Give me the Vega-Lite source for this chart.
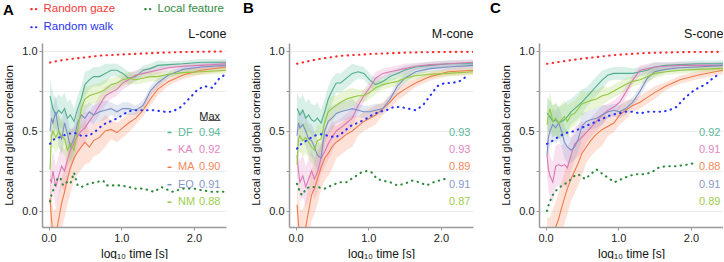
{
"$schema":"https://vega.github.io/schema/vega-lite/v6.json",
"background":"white",
"padding":{"left":3,"top":1,"right":0,"bottom":0},
"config":{
 "font":"Liberation Sans",
 "view":{"stroke":null},
 "axis":{"labelFontSize":11,"labelColor":"#222","titleFontSize":12,"titleFontWeight":"normal","titleColor":"#111","domainColor":"#9a9a9a","domainWidth":1.5,"tickColor":"#9a9a9a","tickSize":3,"gridColor":"#ececec","labelPadding":2},
 "axisY":{"titlePadding":7,"titleFontSize":11.5},
 "axisX":{"titlePadding":5},
 "legend":{"labelFont":"Liberation Sans"}
},
"datasets":{
"models":[
{"p":"A","m":"DF","x":0.02,"y":0.72,"lo":0.62,"hi":0.82},{"p":"A","m":"DF","x":0.04,"y":0.68,"lo":0.58,"hi":0.78},{"p":"A","m":"DF","x":0.06,"y":0.64,"lo":0.54,"hi":0.74},{"p":"A","m":"DF","x":0.10,"y":0.60,"lo":0.50,"hi":0.70},{"p":"A","m":"DF","x":0.14,"y":0.63,"lo":0.53,"hi":0.73},{"p":"A","m":"DF","x":0.18,"y":0.61,"lo":0.51,"hi":0.71},{"p":"A","m":"DF","x":0.22,"y":0.64,"lo":0.54,"hi":0.74},{"p":"A","m":"DF","x":0.26,"y":0.58,"lo":0.48,"hi":0.68},{"p":"A","m":"DF","x":0.30,"y":0.60,"lo":0.50,"hi":0.70},{"p":"A","m":"DF","x":0.35,"y":0.56,"lo":0.48,"hi":0.64},{"p":"A","m":"DF","x":0.40,"y":0.64,"lo":0.56,"hi":0.72},{"p":"A","m":"DF","x":0.45,"y":0.70,"lo":0.62,"hi":0.78},{"p":"A","m":"DF","x":0.50,"y":0.79,"lo":0.71,"hi":0.87},{"p":"A","m":"DF","x":0.56,"y":0.82,"lo":0.76,"hi":0.88},{"p":"A","m":"DF","x":0.62,"y":0.84,"lo":0.78,"hi":0.90},{"p":"A","m":"DF","x":0.70,"y":0.84,"lo":0.78,"hi":0.90},{"p":"A","m":"DF","x":0.78,"y":0.86,"lo":0.80,"hi":0.92},{"p":"A","m":"DF","x":0.86,"y":0.88,"lo":0.84,"hi":0.92},{"p":"A","m":"DF","x":0.94,"y":0.88,"lo":0.84,"hi":0.92},{"p":"A","m":"DF","x":1.02,"y":0.86,"lo":0.82,"hi":0.90},{"p":"A","m":"DF","x":1.10,"y":0.83,"lo":0.79,"hi":0.87},{"p":"A","m":"DF","x":1.20,"y":0.84,"lo":0.81,"hi":0.87},{"p":"A","m":"DF","x":1.30,"y":0.88,"lo":0.85,"hi":0.91},{"p":"A","m":"DF","x":1.40,"y":0.89,"lo":0.86,"hi":0.92},{"p":"A","m":"DF","x":1.50,"y":0.91,"lo":0.88,"hi":0.94},{"p":"A","m":"DF","x":1.65,"y":0.915,"lo":0.895,"hi":0.935},{"p":"A","m":"DF","x":1.85,"y":0.92,"lo":0.90,"hi":0.94},{"p":"A","m":"DF","x":2.10,"y":0.93,"lo":0.91,"hi":0.95},{"p":"A","m":"DF","x":2.44,"y":0.93,"lo":0.91,"hi":0.95},
{"p":"A","m":"KA","x":0.02,"y":0.20,"lo":0.07,"hi":0.33},{"p":"A","m":"KA","x":0.04,"y":0.18,"lo":0.05,"hi":0.31},{"p":"A","m":"KA","x":0.06,"y":0.25,"lo":0.12,"hi":0.38},{"p":"A","m":"KA","x":0.10,"y":0.15,"lo":0.02,"hi":0.28},{"p":"A","m":"KA","x":0.14,"y":0.22,"lo":0.09,"hi":0.35},{"p":"A","m":"KA","x":0.18,"y":0.28,"lo":0.15,"hi":0.41},{"p":"A","m":"KA","x":0.22,"y":0.25,"lo":0.12,"hi":0.38},{"p":"A","m":"KA","x":0.26,"y":0.32,"lo":0.19,"hi":0.45},{"p":"A","m":"KA","x":0.30,"y":0.38,"lo":0.25,"hi":0.51},{"p":"A","m":"KA","x":0.35,"y":0.42,"lo":0.32,"hi":0.52},{"p":"A","m":"KA","x":0.40,"y":0.47,"lo":0.37,"hi":0.57},{"p":"A","m":"KA","x":0.45,"y":0.50,"lo":0.40,"hi":0.60},{"p":"A","m":"KA","x":0.50,"y":0.52,"lo":0.42,"hi":0.62},{"p":"A","m":"KA","x":0.56,"y":0.56,"lo":0.50,"hi":0.62},{"p":"A","m":"KA","x":0.62,"y":0.60,"lo":0.54,"hi":0.66},{"p":"A","m":"KA","x":0.70,"y":0.66,"lo":0.60,"hi":0.72},{"p":"A","m":"KA","x":0.78,"y":0.72,"lo":0.66,"hi":0.78},{"p":"A","m":"KA","x":0.86,"y":0.74,"lo":0.70,"hi":0.78},{"p":"A","m":"KA","x":0.94,"y":0.76,"lo":0.72,"hi":0.80},{"p":"A","m":"KA","x":1.02,"y":0.80,"lo":0.76,"hi":0.84},{"p":"A","m":"KA","x":1.10,"y":0.82,"lo":0.78,"hi":0.86},{"p":"A","m":"KA","x":1.20,"y":0.85,"lo":0.82,"hi":0.88},{"p":"A","m":"KA","x":1.30,"y":0.86,"lo":0.83,"hi":0.89},{"p":"A","m":"KA","x":1.40,"y":0.87,"lo":0.84,"hi":0.90},{"p":"A","m":"KA","x":1.50,"y":0.88,"lo":0.85,"hi":0.91},{"p":"A","m":"KA","x":1.65,"y":0.895,"lo":0.875,"hi":0.915},{"p":"A","m":"KA","x":1.85,"y":0.905,"lo":0.885,"hi":0.925},{"p":"A","m":"KA","x":2.10,"y":0.91,"lo":0.89,"hi":0.93},{"p":"A","m":"KA","x":2.44,"y":0.92,"lo":0.90,"hi":0.94},
{"p":"A","m":"MA","x":0.02,"y":0.08,"lo":-0.08,"hi":0.24},{"p":"A","m":"MA","x":0.04,"y":-0.05,"lo":-0.21,"hi":0.11},{"p":"A","m":"MA","x":0.06,"y":-0.15,"lo":-0.31,"hi":0.01},{"p":"A","m":"MA","x":0.10,"y":-0.15,"lo":-0.31,"hi":0.01},{"p":"A","m":"MA","x":0.14,"y":-0.05,"lo":-0.21,"hi":0.11},{"p":"A","m":"MA","x":0.18,"y":0.05,"lo":-0.11,"hi":0.21},{"p":"A","m":"MA","x":0.22,"y":0.12,"lo":-0.04,"hi":0.28},{"p":"A","m":"MA","x":0.26,"y":0.20,"lo":0.04,"hi":0.36},{"p":"A","m":"MA","x":0.30,"y":0.27,"lo":0.11,"hi":0.43},{"p":"A","m":"MA","x":0.35,"y":0.33,"lo":0.19,"hi":0.47},{"p":"A","m":"MA","x":0.40,"y":0.37,"lo":0.23,"hi":0.51},{"p":"A","m":"MA","x":0.45,"y":0.40,"lo":0.26,"hi":0.54},{"p":"A","m":"MA","x":0.50,"y":0.43,"lo":0.29,"hi":0.57},{"p":"A","m":"MA","x":0.56,"y":0.40,"lo":0.30,"hi":0.50},{"p":"A","m":"MA","x":0.62,"y":0.44,"lo":0.34,"hi":0.54},{"p":"A","m":"MA","x":0.70,"y":0.46,"lo":0.36,"hi":0.56},{"p":"A","m":"MA","x":0.78,"y":0.50,"lo":0.40,"hi":0.60},{"p":"A","m":"MA","x":0.86,"y":0.51,"lo":0.45,"hi":0.57},{"p":"A","m":"MA","x":0.94,"y":0.49,"lo":0.43,"hi":0.55},{"p":"A","m":"MA","x":1.02,"y":0.52,"lo":0.46,"hi":0.58},{"p":"A","m":"MA","x":1.10,"y":0.55,"lo":0.49,"hi":0.61},{"p":"A","m":"MA","x":1.20,"y":0.58,"lo":0.54,"hi":0.62},{"p":"A","m":"MA","x":1.30,"y":0.63,"lo":0.59,"hi":0.67},{"p":"A","m":"MA","x":1.40,"y":0.70,"lo":0.66,"hi":0.74},{"p":"A","m":"MA","x":1.50,"y":0.76,"lo":0.72,"hi":0.80},{"p":"A","m":"MA","x":1.65,"y":0.81,"lo":0.785,"hi":0.835},{"p":"A","m":"MA","x":1.85,"y":0.85,"lo":0.825,"hi":0.875},{"p":"A","m":"MA","x":2.10,"y":0.88,"lo":0.855,"hi":0.905},{"p":"A","m":"MA","x":2.44,"y":0.90,"lo":0.875,"hi":0.925},
{"p":"A","m":"EO","x":0.02,"y":0.50,"lo":0.40,"hi":0.60},{"p":"A","m":"EO","x":0.04,"y":0.58,"lo":0.48,"hi":0.68},{"p":"A","m":"EO","x":0.06,"y":0.55,"lo":0.45,"hi":0.65},{"p":"A","m":"EO","x":0.10,"y":0.62,"lo":0.52,"hi":0.72},{"p":"A","m":"EO","x":0.14,"y":0.50,"lo":0.40,"hi":0.60},{"p":"A","m":"EO","x":0.18,"y":0.45,"lo":0.35,"hi":0.55},{"p":"A","m":"EO","x":0.22,"y":0.55,"lo":0.45,"hi":0.65},{"p":"A","m":"EO","x":0.26,"y":0.48,"lo":0.38,"hi":0.58},{"p":"A","m":"EO","x":0.30,"y":0.40,"lo":0.30,"hi":0.50},{"p":"A","m":"EO","x":0.35,"y":0.45,"lo":0.37,"hi":0.53},{"p":"A","m":"EO","x":0.40,"y":0.55,"lo":0.47,"hi":0.63},{"p":"A","m":"EO","x":0.45,"y":0.60,"lo":0.52,"hi":0.68},{"p":"A","m":"EO","x":0.50,"y":0.58,"lo":0.50,"hi":0.66},{"p":"A","m":"EO","x":0.56,"y":0.62,"lo":0.56,"hi":0.68},{"p":"A","m":"EO","x":0.62,"y":0.60,"lo":0.54,"hi":0.66},{"p":"A","m":"EO","x":0.70,"y":0.62,"lo":0.56,"hi":0.68},{"p":"A","m":"EO","x":0.78,"y":0.63,"lo":0.57,"hi":0.69},{"p":"A","m":"EO","x":0.86,"y":0.64,"lo":0.60,"hi":0.68},{"p":"A","m":"EO","x":0.94,"y":0.62,"lo":0.58,"hi":0.66},{"p":"A","m":"EO","x":1.02,"y":0.64,"lo":0.60,"hi":0.68},{"p":"A","m":"EO","x":1.10,"y":0.64,"lo":0.60,"hi":0.68},{"p":"A","m":"EO","x":1.20,"y":0.63,"lo":0.60,"hi":0.66},{"p":"A","m":"EO","x":1.30,"y":0.66,"lo":0.63,"hi":0.69},{"p":"A","m":"EO","x":1.40,"y":0.75,"lo":0.72,"hi":0.78},{"p":"A","m":"EO","x":1.50,"y":0.80,"lo":0.77,"hi":0.83},{"p":"A","m":"EO","x":1.65,"y":0.85,"lo":0.83,"hi":0.87},{"p":"A","m":"EO","x":1.85,"y":0.885,"lo":0.865,"hi":0.905},{"p":"A","m":"EO","x":2.10,"y":0.90,"lo":0.88,"hi":0.92},{"p":"A","m":"EO","x":2.44,"y":0.91,"lo":0.89,"hi":0.93},
{"p":"A","m":"NM","x":0.02,"y":0.26,"lo":0.16,"hi":0.36},{"p":"A","m":"NM","x":0.04,"y":0.47,"lo":0.37,"hi":0.57},{"p":"A","m":"NM","x":0.06,"y":0.50,"lo":0.40,"hi":0.60},{"p":"A","m":"NM","x":0.10,"y":0.46,"lo":0.36,"hi":0.56},{"p":"A","m":"NM","x":0.14,"y":0.50,"lo":0.40,"hi":0.60},{"p":"A","m":"NM","x":0.18,"y":0.47,"lo":0.37,"hi":0.57},{"p":"A","m":"NM","x":0.22,"y":0.45,"lo":0.35,"hi":0.55},{"p":"A","m":"NM","x":0.26,"y":0.38,"lo":0.28,"hi":0.48},{"p":"A","m":"NM","x":0.30,"y":0.42,"lo":0.32,"hi":0.52},{"p":"A","m":"NM","x":0.35,"y":0.38,"lo":0.30,"hi":0.46},{"p":"A","m":"NM","x":0.40,"y":0.50,"lo":0.42,"hi":0.58},{"p":"A","m":"NM","x":0.45,"y":0.64,"lo":0.56,"hi":0.72},{"p":"A","m":"NM","x":0.50,"y":0.70,"lo":0.62,"hi":0.78},{"p":"A","m":"NM","x":0.56,"y":0.72,"lo":0.66,"hi":0.78},{"p":"A","m":"NM","x":0.62,"y":0.73,"lo":0.67,"hi":0.79},{"p":"A","m":"NM","x":0.70,"y":0.74,"lo":0.68,"hi":0.80},{"p":"A","m":"NM","x":0.78,"y":0.76,"lo":0.70,"hi":0.82},{"p":"A","m":"NM","x":0.86,"y":0.79,"lo":0.75,"hi":0.83},{"p":"A","m":"NM","x":0.94,"y":0.80,"lo":0.76,"hi":0.84},{"p":"A","m":"NM","x":1.02,"y":0.82,"lo":0.78,"hi":0.86},{"p":"A","m":"NM","x":1.10,"y":0.83,"lo":0.79,"hi":0.87},{"p":"A","m":"NM","x":1.20,"y":0.82,"lo":0.79,"hi":0.85},{"p":"A","m":"NM","x":1.30,"y":0.83,"lo":0.80,"hi":0.86},{"p":"A","m":"NM","x":1.40,"y":0.84,"lo":0.81,"hi":0.87},{"p":"A","m":"NM","x":1.50,"y":0.84,"lo":0.81,"hi":0.87},{"p":"A","m":"NM","x":1.65,"y":0.855,"lo":0.835,"hi":0.875},{"p":"A","m":"NM","x":1.85,"y":0.865,"lo":0.845,"hi":0.885},{"p":"A","m":"NM","x":2.10,"y":0.87,"lo":0.85,"hi":0.89},{"p":"A","m":"NM","x":2.44,"y":0.88,"lo":0.86,"hi":0.90},
{"p":"B","m":"DF","x":0.02,"y":0.64,"lo":0.54,"hi":0.74},{"p":"B","m":"DF","x":0.04,"y":0.62,"lo":0.52,"hi":0.72},{"p":"B","m":"DF","x":0.06,"y":0.60,"lo":0.50,"hi":0.70},{"p":"B","m":"DF","x":0.10,"y":0.63,"lo":0.53,"hi":0.73},{"p":"B","m":"DF","x":0.14,"y":0.58,"lo":0.48,"hi":0.68},{"p":"B","m":"DF","x":0.18,"y":0.60,"lo":0.50,"hi":0.70},{"p":"B","m":"DF","x":0.22,"y":0.57,"lo":0.47,"hi":0.67},{"p":"B","m":"DF","x":0.26,"y":0.56,"lo":0.46,"hi":0.66},{"p":"B","m":"DF","x":0.30,"y":0.58,"lo":0.48,"hi":0.68},{"p":"B","m":"DF","x":0.35,"y":0.55,"lo":0.47,"hi":0.63},{"p":"B","m":"DF","x":0.40,"y":0.62,"lo":0.54,"hi":0.70},{"p":"B","m":"DF","x":0.45,"y":0.70,"lo":0.62,"hi":0.78},{"p":"B","m":"DF","x":0.50,"y":0.75,"lo":0.67,"hi":0.83},{"p":"B","m":"DF","x":0.56,"y":0.80,"lo":0.74,"hi":0.86},{"p":"B","m":"DF","x":0.62,"y":0.80,"lo":0.74,"hi":0.86},{"p":"B","m":"DF","x":0.70,"y":0.83,"lo":0.77,"hi":0.89},{"p":"B","m":"DF","x":0.78,"y":0.86,"lo":0.80,"hi":0.92},{"p":"B","m":"DF","x":0.86,"y":0.87,"lo":0.83,"hi":0.91},{"p":"B","m":"DF","x":0.94,"y":0.86,"lo":0.82,"hi":0.90},{"p":"B","m":"DF","x":1.02,"y":0.82,"lo":0.78,"hi":0.86},{"p":"B","m":"DF","x":1.10,"y":0.79,"lo":0.75,"hi":0.83},{"p":"B","m":"DF","x":1.20,"y":0.81,"lo":0.78,"hi":0.84},{"p":"B","m":"DF","x":1.30,"y":0.84,"lo":0.81,"hi":0.87},{"p":"B","m":"DF","x":1.40,"y":0.86,"lo":0.83,"hi":0.89},{"p":"B","m":"DF","x":1.50,"y":0.88,"lo":0.85,"hi":0.91},{"p":"B","m":"DF","x":1.65,"y":0.90,"lo":0.88,"hi":0.92},{"p":"B","m":"DF","x":1.85,"y":0.91,"lo":0.89,"hi":0.93},{"p":"B","m":"DF","x":2.10,"y":0.92,"lo":0.90,"hi":0.94},{"p":"B","m":"DF","x":2.44,"y":0.92,"lo":0.90,"hi":0.94},
{"p":"B","m":"KA","x":0.02,"y":0.35,"lo":0.22,"hi":0.48},{"p":"B","m":"KA","x":0.04,"y":0.25,"lo":0.12,"hi":0.38},{"p":"B","m":"KA","x":0.06,"y":0.18,"lo":0.05,"hi":0.31},{"p":"B","m":"KA","x":0.10,"y":0.22,"lo":0.09,"hi":0.35},{"p":"B","m":"KA","x":0.14,"y":0.15,"lo":0.02,"hi":0.28},{"p":"B","m":"KA","x":0.18,"y":0.20,"lo":0.07,"hi":0.33},{"p":"B","m":"KA","x":0.22,"y":0.25,"lo":0.12,"hi":0.38},{"p":"B","m":"KA","x":0.26,"y":0.20,"lo":0.07,"hi":0.33},{"p":"B","m":"KA","x":0.30,"y":0.24,"lo":0.11,"hi":0.37},{"p":"B","m":"KA","x":0.35,"y":0.33,"lo":0.23,"hi":0.43},{"p":"B","m":"KA","x":0.40,"y":0.37,"lo":0.27,"hi":0.47},{"p":"B","m":"KA","x":0.45,"y":0.42,"lo":0.32,"hi":0.52},{"p":"B","m":"KA","x":0.50,"y":0.46,"lo":0.36,"hi":0.56},{"p":"B","m":"KA","x":0.56,"y":0.50,"lo":0.44,"hi":0.56},{"p":"B","m":"KA","x":0.62,"y":0.52,"lo":0.46,"hi":0.58},{"p":"B","m":"KA","x":0.70,"y":0.55,"lo":0.49,"hi":0.61},{"p":"B","m":"KA","x":0.78,"y":0.58,"lo":0.52,"hi":0.64},{"p":"B","m":"KA","x":0.86,"y":0.66,"lo":0.62,"hi":0.70},{"p":"B","m":"KA","x":0.94,"y":0.72,"lo":0.68,"hi":0.76},{"p":"B","m":"KA","x":1.02,"y":0.77,"lo":0.73,"hi":0.81},{"p":"B","m":"KA","x":1.10,"y":0.83,"lo":0.79,"hi":0.87},{"p":"B","m":"KA","x":1.20,"y":0.86,"lo":0.83,"hi":0.89},{"p":"B","m":"KA","x":1.30,"y":0.87,"lo":0.84,"hi":0.90},{"p":"B","m":"KA","x":1.40,"y":0.88,"lo":0.85,"hi":0.91},{"p":"B","m":"KA","x":1.50,"y":0.89,"lo":0.86,"hi":0.92},{"p":"B","m":"KA","x":1.65,"y":0.905,"lo":0.885,"hi":0.925},{"p":"B","m":"KA","x":1.85,"y":0.915,"lo":0.895,"hi":0.935},{"p":"B","m":"KA","x":2.10,"y":0.92,"lo":0.90,"hi":0.94},{"p":"B","m":"KA","x":2.44,"y":0.93,"lo":0.91,"hi":0.95},
{"p":"B","m":"MA","x":0.02,"y":0.04,"lo":-0.12,"hi":0.20},{"p":"B","m":"MA","x":0.04,"y":-0.08,"lo":-0.24,"hi":0.08},{"p":"B","m":"MA","x":0.06,"y":-0.15,"lo":-0.31,"hi":0.01},{"p":"B","m":"MA","x":0.10,"y":-0.15,"lo":-0.31,"hi":0.01},{"p":"B","m":"MA","x":0.14,"y":-0.10,"lo":-0.26,"hi":0.06},{"p":"B","m":"MA","x":0.18,"y":0.00,"lo":-0.16,"hi":0.16},{"p":"B","m":"MA","x":0.22,"y":0.10,"lo":-0.06,"hi":0.26},{"p":"B","m":"MA","x":0.26,"y":0.14,"lo":-0.02,"hi":0.30},{"p":"B","m":"MA","x":0.30,"y":0.20,"lo":0.04,"hi":0.36},{"p":"B","m":"MA","x":0.35,"y":0.27,"lo":0.13,"hi":0.41},{"p":"B","m":"MA","x":0.40,"y":0.33,"lo":0.19,"hi":0.47},{"p":"B","m":"MA","x":0.45,"y":0.36,"lo":0.22,"hi":0.50},{"p":"B","m":"MA","x":0.50,"y":0.40,"lo":0.26,"hi":0.54},{"p":"B","m":"MA","x":0.56,"y":0.43,"lo":0.33,"hi":0.53},{"p":"B","m":"MA","x":0.62,"y":0.45,"lo":0.35,"hi":0.55},{"p":"B","m":"MA","x":0.70,"y":0.48,"lo":0.38,"hi":0.58},{"p":"B","m":"MA","x":0.78,"y":0.50,"lo":0.40,"hi":0.60},{"p":"B","m":"MA","x":0.86,"y":0.53,"lo":0.47,"hi":0.59},{"p":"B","m":"MA","x":0.94,"y":0.56,"lo":0.50,"hi":0.62},{"p":"B","m":"MA","x":1.02,"y":0.58,"lo":0.52,"hi":0.64},{"p":"B","m":"MA","x":1.10,"y":0.60,"lo":0.54,"hi":0.66},{"p":"B","m":"MA","x":1.20,"y":0.64,"lo":0.60,"hi":0.68},{"p":"B","m":"MA","x":1.30,"y":0.68,"lo":0.64,"hi":0.72},{"p":"B","m":"MA","x":1.40,"y":0.73,"lo":0.69,"hi":0.77},{"p":"B","m":"MA","x":1.50,"y":0.76,"lo":0.72,"hi":0.80},{"p":"B","m":"MA","x":1.65,"y":0.80,"lo":0.775,"hi":0.825},{"p":"B","m":"MA","x":1.85,"y":0.84,"lo":0.815,"hi":0.865},{"p":"B","m":"MA","x":2.10,"y":0.87,"lo":0.845,"hi":0.895},{"p":"B","m":"MA","x":2.44,"y":0.88,"lo":0.855,"hi":0.905},
{"p":"B","m":"EO","x":0.02,"y":0.47,"lo":0.37,"hi":0.57},{"p":"B","m":"EO","x":0.04,"y":0.55,"lo":0.45,"hi":0.65},{"p":"B","m":"EO","x":0.06,"y":0.52,"lo":0.42,"hi":0.62},{"p":"B","m":"EO","x":0.10,"y":0.54,"lo":0.44,"hi":0.64},{"p":"B","m":"EO","x":0.14,"y":0.50,"lo":0.40,"hi":0.60},{"p":"B","m":"EO","x":0.18,"y":0.45,"lo":0.35,"hi":0.55},{"p":"B","m":"EO","x":0.22,"y":0.44,"lo":0.34,"hi":0.54},{"p":"B","m":"EO","x":0.26,"y":0.40,"lo":0.30,"hi":0.50},{"p":"B","m":"EO","x":0.30,"y":0.35,"lo":0.25,"hi":0.45},{"p":"B","m":"EO","x":0.35,"y":0.33,"lo":0.25,"hi":0.41},{"p":"B","m":"EO","x":0.40,"y":0.50,"lo":0.42,"hi":0.58},{"p":"B","m":"EO","x":0.45,"y":0.56,"lo":0.48,"hi":0.64},{"p":"B","m":"EO","x":0.50,"y":0.58,"lo":0.50,"hi":0.66},{"p":"B","m":"EO","x":0.56,"y":0.61,"lo":0.55,"hi":0.67},{"p":"B","m":"EO","x":0.62,"y":0.62,"lo":0.56,"hi":0.68},{"p":"B","m":"EO","x":0.70,"y":0.63,"lo":0.57,"hi":0.69},{"p":"B","m":"EO","x":0.78,"y":0.64,"lo":0.58,"hi":0.70},{"p":"B","m":"EO","x":0.86,"y":0.63,"lo":0.59,"hi":0.67},{"p":"B","m":"EO","x":0.94,"y":0.62,"lo":0.58,"hi":0.66},{"p":"B","m":"EO","x":1.02,"y":0.62,"lo":0.58,"hi":0.66},{"p":"B","m":"EO","x":1.10,"y":0.63,"lo":0.59,"hi":0.67},{"p":"B","m":"EO","x":1.20,"y":0.64,"lo":0.61,"hi":0.67},{"p":"B","m":"EO","x":1.30,"y":0.70,"lo":0.67,"hi":0.73},{"p":"B","m":"EO","x":1.40,"y":0.78,"lo":0.75,"hi":0.81},{"p":"B","m":"EO","x":1.50,"y":0.83,"lo":0.80,"hi":0.86},{"p":"B","m":"EO","x":1.65,"y":0.87,"lo":0.85,"hi":0.89},{"p":"B","m":"EO","x":1.85,"y":0.89,"lo":0.87,"hi":0.91},{"p":"B","m":"EO","x":2.10,"y":0.90,"lo":0.88,"hi":0.92},{"p":"B","m":"EO","x":2.44,"y":0.91,"lo":0.89,"hi":0.93},
{"p":"B","m":"NM","x":0.02,"y":0.29,"lo":0.19,"hi":0.39},{"p":"B","m":"NM","x":0.04,"y":0.45,"lo":0.35,"hi":0.55},{"p":"B","m":"NM","x":0.06,"y":0.47,"lo":0.37,"hi":0.57},{"p":"B","m":"NM","x":0.10,"y":0.44,"lo":0.34,"hi":0.54},{"p":"B","m":"NM","x":0.14,"y":0.46,"lo":0.36,"hi":0.56},{"p":"B","m":"NM","x":0.18,"y":0.43,"lo":0.33,"hi":0.53},{"p":"B","m":"NM","x":0.22,"y":0.40,"lo":0.30,"hi":0.50},{"p":"B","m":"NM","x":0.26,"y":0.38,"lo":0.28,"hi":0.48},{"p":"B","m":"NM","x":0.30,"y":0.44,"lo":0.34,"hi":0.54},{"p":"B","m":"NM","x":0.35,"y":0.45,"lo":0.37,"hi":0.53},{"p":"B","m":"NM","x":0.40,"y":0.55,"lo":0.47,"hi":0.63},{"p":"B","m":"NM","x":0.45,"y":0.62,"lo":0.54,"hi":0.70},{"p":"B","m":"NM","x":0.50,"y":0.64,"lo":0.56,"hi":0.72},{"p":"B","m":"NM","x":0.56,"y":0.66,"lo":0.60,"hi":0.72},{"p":"B","m":"NM","x":0.62,"y":0.68,"lo":0.62,"hi":0.74},{"p":"B","m":"NM","x":0.70,"y":0.70,"lo":0.64,"hi":0.76},{"p":"B","m":"NM","x":0.78,"y":0.71,"lo":0.65,"hi":0.77},{"p":"B","m":"NM","x":0.86,"y":0.72,"lo":0.68,"hi":0.76},{"p":"B","m":"NM","x":0.94,"y":0.72,"lo":0.68,"hi":0.76},{"p":"B","m":"NM","x":1.02,"y":0.74,"lo":0.70,"hi":0.78},{"p":"B","m":"NM","x":1.10,"y":0.77,"lo":0.73,"hi":0.81},{"p":"B","m":"NM","x":1.20,"y":0.79,"lo":0.76,"hi":0.82},{"p":"B","m":"NM","x":1.30,"y":0.80,"lo":0.77,"hi":0.83},{"p":"B","m":"NM","x":1.40,"y":0.81,"lo":0.78,"hi":0.84},{"p":"B","m":"NM","x":1.50,"y":0.83,"lo":0.80,"hi":0.86},{"p":"B","m":"NM","x":1.65,"y":0.845,"lo":0.825,"hi":0.865},{"p":"B","m":"NM","x":1.85,"y":0.855,"lo":0.835,"hi":0.875},{"p":"B","m":"NM","x":2.10,"y":0.86,"lo":0.84,"hi":0.88},{"p":"B","m":"NM","x":2.44,"y":0.87,"lo":0.85,"hi":0.89},
{"p":"C","m":"DF","x":0.02,"y":0.61,"lo":0.51,"hi":0.71},{"p":"C","m":"DF","x":0.04,"y":0.60,"lo":0.50,"hi":0.70},{"p":"C","m":"DF","x":0.06,"y":0.59,"lo":0.49,"hi":0.69},{"p":"C","m":"DF","x":0.10,"y":0.56,"lo":0.46,"hi":0.66},{"p":"C","m":"DF","x":0.14,"y":0.57,"lo":0.47,"hi":0.67},{"p":"C","m":"DF","x":0.18,"y":0.55,"lo":0.45,"hi":0.65},{"p":"C","m":"DF","x":0.22,"y":0.56,"lo":0.46,"hi":0.66},{"p":"C","m":"DF","x":0.26,"y":0.57,"lo":0.47,"hi":0.67},{"p":"C","m":"DF","x":0.30,"y":0.59,"lo":0.49,"hi":0.69},{"p":"C","m":"DF","x":0.35,"y":0.62,"lo":0.54,"hi":0.70},{"p":"C","m":"DF","x":0.40,"y":0.64,"lo":0.56,"hi":0.72},{"p":"C","m":"DF","x":0.45,"y":0.66,"lo":0.58,"hi":0.74},{"p":"C","m":"DF","x":0.50,"y":0.68,"lo":0.60,"hi":0.76},{"p":"C","m":"DF","x":0.56,"y":0.71,"lo":0.65,"hi":0.77},{"p":"C","m":"DF","x":0.62,"y":0.74,"lo":0.68,"hi":0.80},{"p":"C","m":"DF","x":0.70,"y":0.78,"lo":0.72,"hi":0.84},{"p":"C","m":"DF","x":0.78,"y":0.82,"lo":0.76,"hi":0.88},{"p":"C","m":"DF","x":0.86,"y":0.85,"lo":0.81,"hi":0.89},{"p":"C","m":"DF","x":0.94,"y":0.86,"lo":0.82,"hi":0.90},{"p":"C","m":"DF","x":1.02,"y":0.86,"lo":0.82,"hi":0.90},{"p":"C","m":"DF","x":1.10,"y":0.86,"lo":0.82,"hi":0.90},{"p":"C","m":"DF","x":1.20,"y":0.86,"lo":0.83,"hi":0.89},{"p":"C","m":"DF","x":1.30,"y":0.87,"lo":0.84,"hi":0.90},{"p":"C","m":"DF","x":1.40,"y":0.88,"lo":0.85,"hi":0.91},{"p":"C","m":"DF","x":1.50,"y":0.90,"lo":0.87,"hi":0.93},{"p":"C","m":"DF","x":1.65,"y":0.91,"lo":0.89,"hi":0.93},{"p":"C","m":"DF","x":1.85,"y":0.915,"lo":0.895,"hi":0.935},{"p":"C","m":"DF","x":2.10,"y":0.92,"lo":0.90,"hi":0.94},{"p":"C","m":"DF","x":2.44,"y":0.92,"lo":0.90,"hi":0.94},
{"p":"C","m":"KA","x":0.02,"y":0.35,"lo":0.22,"hi":0.48},{"p":"C","m":"KA","x":0.04,"y":0.26,"lo":0.13,"hi":0.39},{"p":"C","m":"KA","x":0.06,"y":0.22,"lo":0.09,"hi":0.35},{"p":"C","m":"KA","x":0.10,"y":0.18,"lo":0.05,"hi":0.31},{"p":"C","m":"KA","x":0.14,"y":0.28,"lo":0.15,"hi":0.41},{"p":"C","m":"KA","x":0.18,"y":0.29,"lo":0.16,"hi":0.42},{"p":"C","m":"KA","x":0.22,"y":0.28,"lo":0.15,"hi":0.41},{"p":"C","m":"KA","x":0.26,"y":0.29,"lo":0.16,"hi":0.42},{"p":"C","m":"KA","x":0.30,"y":0.27,"lo":0.14,"hi":0.40},{"p":"C","m":"KA","x":0.35,"y":0.35,"lo":0.25,"hi":0.45},{"p":"C","m":"KA","x":0.40,"y":0.42,"lo":0.32,"hi":0.52},{"p":"C","m":"KA","x":0.45,"y":0.44,"lo":0.34,"hi":0.54},{"p":"C","m":"KA","x":0.50,"y":0.46,"lo":0.36,"hi":0.56},{"p":"C","m":"KA","x":0.56,"y":0.49,"lo":0.43,"hi":0.55},{"p":"C","m":"KA","x":0.62,"y":0.52,"lo":0.46,"hi":0.58},{"p":"C","m":"KA","x":0.70,"y":0.56,"lo":0.50,"hi":0.62},{"p":"C","m":"KA","x":0.78,"y":0.60,"lo":0.54,"hi":0.66},{"p":"C","m":"KA","x":0.86,"y":0.63,"lo":0.59,"hi":0.67},{"p":"C","m":"KA","x":0.94,"y":0.65,"lo":0.61,"hi":0.69},{"p":"C","m":"KA","x":1.02,"y":0.68,"lo":0.64,"hi":0.72},{"p":"C","m":"KA","x":1.10,"y":0.74,"lo":0.70,"hi":0.78},{"p":"C","m":"KA","x":1.20,"y":0.82,"lo":0.79,"hi":0.85},{"p":"C","m":"KA","x":1.30,"y":0.88,"lo":0.85,"hi":0.91},{"p":"C","m":"KA","x":1.40,"y":0.89,"lo":0.86,"hi":0.92},{"p":"C","m":"KA","x":1.50,"y":0.90,"lo":0.87,"hi":0.93},{"p":"C","m":"KA","x":1.65,"y":0.905,"lo":0.885,"hi":0.925},{"p":"C","m":"KA","x":1.85,"y":0.91,"lo":0.89,"hi":0.93},{"p":"C","m":"KA","x":2.10,"y":0.91,"lo":0.89,"hi":0.93},{"p":"C","m":"KA","x":2.44,"y":0.91,"lo":0.89,"hi":0.93},
{"p":"C","m":"MA","x":0.02,"y":-0.20,"lo":-0.36,"hi":-0.04},{"p":"C","m":"MA","x":0.04,"y":-0.20,"lo":-0.36,"hi":-0.04},{"p":"C","m":"MA","x":0.06,"y":-0.20,"lo":-0.36,"hi":-0.04},{"p":"C","m":"MA","x":0.10,"y":-0.15,"lo":-0.31,"hi":0.01},{"p":"C","m":"MA","x":0.14,"y":-0.10,"lo":-0.26,"hi":0.06},{"p":"C","m":"MA","x":0.18,"y":-0.05,"lo":-0.21,"hi":0.11},{"p":"C","m":"MA","x":0.22,"y":0.02,"lo":-0.14,"hi":0.18},{"p":"C","m":"MA","x":0.26,"y":0.08,"lo":-0.08,"hi":0.24},{"p":"C","m":"MA","x":0.30,"y":0.14,"lo":-0.02,"hi":0.30},{"p":"C","m":"MA","x":0.35,"y":0.20,"lo":0.06,"hi":0.34},{"p":"C","m":"MA","x":0.40,"y":0.25,"lo":0.11,"hi":0.39},{"p":"C","m":"MA","x":0.45,"y":0.30,"lo":0.16,"hi":0.44},{"p":"C","m":"MA","x":0.50,"y":0.36,"lo":0.22,"hi":0.50},{"p":"C","m":"MA","x":0.56,"y":0.40,"lo":0.30,"hi":0.50},{"p":"C","m":"MA","x":0.62,"y":0.44,"lo":0.34,"hi":0.54},{"p":"C","m":"MA","x":0.70,"y":0.48,"lo":0.38,"hi":0.58},{"p":"C","m":"MA","x":0.78,"y":0.51,"lo":0.41,"hi":0.61},{"p":"C","m":"MA","x":0.86,"y":0.53,"lo":0.47,"hi":0.59},{"p":"C","m":"MA","x":0.94,"y":0.55,"lo":0.49,"hi":0.61},{"p":"C","m":"MA","x":1.02,"y":0.60,"lo":0.54,"hi":0.66},{"p":"C","m":"MA","x":1.10,"y":0.63,"lo":0.57,"hi":0.69},{"p":"C","m":"MA","x":1.20,"y":0.66,"lo":0.62,"hi":0.70},{"p":"C","m":"MA","x":1.30,"y":0.68,"lo":0.64,"hi":0.72},{"p":"C","m":"MA","x":1.40,"y":0.71,"lo":0.67,"hi":0.75},{"p":"C","m":"MA","x":1.50,"y":0.74,"lo":0.70,"hi":0.78},{"p":"C","m":"MA","x":1.65,"y":0.78,"lo":0.755,"hi":0.805},{"p":"C","m":"MA","x":1.85,"y":0.82,"lo":0.795,"hi":0.845},{"p":"C","m":"MA","x":2.10,"y":0.85,"lo":0.825,"hi":0.875},{"p":"C","m":"MA","x":2.44,"y":0.88,"lo":0.855,"hi":0.905},
{"p":"C","m":"EO","x":0.02,"y":0.35,"lo":0.25,"hi":0.45},{"p":"C","m":"EO","x":0.04,"y":0.46,"lo":0.36,"hi":0.56},{"p":"C","m":"EO","x":0.06,"y":0.50,"lo":0.40,"hi":0.60},{"p":"C","m":"EO","x":0.10,"y":0.54,"lo":0.44,"hi":0.64},{"p":"C","m":"EO","x":0.14,"y":0.52,"lo":0.42,"hi":0.62},{"p":"C","m":"EO","x":0.18,"y":0.55,"lo":0.45,"hi":0.65},{"p":"C","m":"EO","x":0.22,"y":0.50,"lo":0.40,"hi":0.60},{"p":"C","m":"EO","x":0.26,"y":0.43,"lo":0.33,"hi":0.53},{"p":"C","m":"EO","x":0.30,"y":0.40,"lo":0.30,"hi":0.50},{"p":"C","m":"EO","x":0.35,"y":0.38,"lo":0.30,"hi":0.46},{"p":"C","m":"EO","x":0.40,"y":0.40,"lo":0.32,"hi":0.48},{"p":"C","m":"EO","x":0.45,"y":0.45,"lo":0.37,"hi":0.53},{"p":"C","m":"EO","x":0.50,"y":0.53,"lo":0.45,"hi":0.61},{"p":"C","m":"EO","x":0.56,"y":0.56,"lo":0.50,"hi":0.62},{"p":"C","m":"EO","x":0.62,"y":0.57,"lo":0.51,"hi":0.63},{"p":"C","m":"EO","x":0.70,"y":0.58,"lo":0.52,"hi":0.64},{"p":"C","m":"EO","x":0.78,"y":0.60,"lo":0.54,"hi":0.66},{"p":"C","m":"EO","x":0.86,"y":0.62,"lo":0.58,"hi":0.66},{"p":"C","m":"EO","x":0.94,"y":0.63,"lo":0.59,"hi":0.67},{"p":"C","m":"EO","x":1.02,"y":0.62,"lo":0.58,"hi":0.66},{"p":"C","m":"EO","x":1.10,"y":0.64,"lo":0.60,"hi":0.68},{"p":"C","m":"EO","x":1.20,"y":0.68,"lo":0.65,"hi":0.71},{"p":"C","m":"EO","x":1.30,"y":0.75,"lo":0.72,"hi":0.78},{"p":"C","m":"EO","x":1.40,"y":0.83,"lo":0.80,"hi":0.86},{"p":"C","m":"EO","x":1.50,"y":0.87,"lo":0.84,"hi":0.90},{"p":"C","m":"EO","x":1.65,"y":0.885,"lo":0.865,"hi":0.905},{"p":"C","m":"EO","x":1.85,"y":0.895,"lo":0.875,"hi":0.915},{"p":"C","m":"EO","x":2.10,"y":0.90,"lo":0.88,"hi":0.92},{"p":"C","m":"EO","x":2.44,"y":0.91,"lo":0.89,"hi":0.93},
{"p":"C","m":"NM","x":0.02,"y":0.54,"lo":0.44,"hi":0.64},{"p":"C","m":"NM","x":0.04,"y":0.60,"lo":0.50,"hi":0.70},{"p":"C","m":"NM","x":0.06,"y":0.64,"lo":0.54,"hi":0.74},{"p":"C","m":"NM","x":0.10,"y":0.56,"lo":0.46,"hi":0.66},{"p":"C","m":"NM","x":0.14,"y":0.58,"lo":0.48,"hi":0.68},{"p":"C","m":"NM","x":0.18,"y":0.55,"lo":0.45,"hi":0.65},{"p":"C","m":"NM","x":0.22,"y":0.57,"lo":0.47,"hi":0.67},{"p":"C","m":"NM","x":0.26,"y":0.59,"lo":0.49,"hi":0.69},{"p":"C","m":"NM","x":0.30,"y":0.56,"lo":0.46,"hi":0.66},{"p":"C","m":"NM","x":0.35,"y":0.60,"lo":0.52,"hi":0.68},{"p":"C","m":"NM","x":0.40,"y":0.61,"lo":0.53,"hi":0.69},{"p":"C","m":"NM","x":0.45,"y":0.64,"lo":0.56,"hi":0.72},{"p":"C","m":"NM","x":0.50,"y":0.67,"lo":0.59,"hi":0.75},{"p":"C","m":"NM","x":0.56,"y":0.68,"lo":0.62,"hi":0.74},{"p":"C","m":"NM","x":0.62,"y":0.69,"lo":0.63,"hi":0.75},{"p":"C","m":"NM","x":0.70,"y":0.70,"lo":0.64,"hi":0.76},{"p":"C","m":"NM","x":0.78,"y":0.72,"lo":0.66,"hi":0.78},{"p":"C","m":"NM","x":0.86,"y":0.73,"lo":0.69,"hi":0.77},{"p":"C","m":"NM","x":0.94,"y":0.75,"lo":0.71,"hi":0.79},{"p":"C","m":"NM","x":1.02,"y":0.77,"lo":0.73,"hi":0.81},{"p":"C","m":"NM","x":1.10,"y":0.79,"lo":0.75,"hi":0.83},{"p":"C","m":"NM","x":1.20,"y":0.81,"lo":0.78,"hi":0.84},{"p":"C","m":"NM","x":1.30,"y":0.82,"lo":0.79,"hi":0.85},{"p":"C","m":"NM","x":1.40,"y":0.84,"lo":0.81,"hi":0.87},{"p":"C","m":"NM","x":1.50,"y":0.86,"lo":0.83,"hi":0.89},{"p":"C","m":"NM","x":1.65,"y":0.87,"lo":0.85,"hi":0.89},{"p":"C","m":"NM","x":1.85,"y":0.88,"lo":0.86,"hi":0.90},{"p":"C","m":"NM","x":2.10,"y":0.885,"lo":0.865,"hi":0.905},{"p":"C","m":"NM","x":2.44,"y":0.89,"lo":0.87,"hi":0.91}
],
"base":[
{"p":"A","s":"Random gaze","x":0.02,"y":0.928},{"p":"A","s":"Random gaze","x":0.15,"y":0.94},{"p":"A","s":"Random gaze","x":0.3,"y":0.95},{"p":"A","s":"Random gaze","x":0.5,"y":0.96},{"p":"A","s":"Random gaze","x":0.73,"y":0.972},{"p":"A","s":"Random gaze","x":1.0,"y":0.978},{"p":"A","s":"Random gaze","x":1.3,"y":0.984},{"p":"A","s":"Random gaze","x":1.6,"y":0.99},{"p":"A","s":"Random gaze","x":1.9,"y":0.994},{"p":"A","s":"Random gaze","x":2.2,"y":0.996},{"p":"A","s":"Random gaze","x":2.44,"y":0.997},
{"p":"A","s":"Random walk","x":0.02,"y":0.42},{"p":"A","s":"Random walk","x":0.08,"y":0.45},{"p":"A","s":"Random walk","x":0.15,"y":0.46},{"p":"A","s":"Random walk","x":0.25,"y":0.48},{"p":"A","s":"Random walk","x":0.35,"y":0.49},{"p":"A","s":"Random walk","x":0.45,"y":0.47},{"p":"A","s":"Random walk","x":0.55,"y":0.47},{"p":"A","s":"Random walk","x":0.65,"y":0.5},{"p":"A","s":"Random walk","x":0.75,"y":0.54},{"p":"A","s":"Random walk","x":0.85,"y":0.56},{"p":"A","s":"Random walk","x":0.95,"y":0.58},{"p":"A","s":"Random walk","x":1.05,"y":0.61},{"p":"A","s":"Random walk","x":1.15,"y":0.63},{"p":"A","s":"Random walk","x":1.3,"y":0.63},{"p":"A","s":"Random walk","x":1.45,"y":0.63},{"p":"A","s":"Random walk","x":1.6,"y":0.62},{"p":"A","s":"Random walk","x":1.7,"y":0.62},{"p":"A","s":"Random walk","x":1.82,"y":0.65},{"p":"A","s":"Random walk","x":1.95,"y":0.71},{"p":"A","s":"Random walk","x":2.05,"y":0.76},{"p":"A","s":"Random walk","x":2.15,"y":0.78},{"p":"A","s":"Random walk","x":2.25,"y":0.77},{"p":"A","s":"Random walk","x":2.35,"y":0.83},{"p":"A","s":"Random walk","x":2.42,"y":0.85},
{"p":"A","s":"Local feature","x":0.02,"y":0.06},{"p":"A","s":"Local feature","x":0.04,"y":0.1},{"p":"A","s":"Local feature","x":0.08,"y":0.15},{"p":"A","s":"Local feature","x":0.12,"y":0.2},{"p":"A","s":"Local feature","x":0.16,"y":0.21},{"p":"A","s":"Local feature","x":0.2,"y":0.16},{"p":"A","s":"Local feature","x":0.25,"y":0.18},{"p":"A","s":"Local feature","x":0.3,"y":0.17},{"p":"A","s":"Local feature","x":0.35,"y":0.24},{"p":"A","s":"Local feature","x":0.4,"y":0.16},{"p":"A","s":"Local feature","x":0.45,"y":0.15},{"p":"A","s":"Local feature","x":0.55,"y":0.17},{"p":"A","s":"Local feature","x":0.65,"y":0.18},{"p":"A","s":"Local feature","x":0.75,"y":0.19},{"p":"A","s":"Local feature","x":0.8,"y":0.16},{"p":"A","s":"Local feature","x":0.9,"y":0.16},{"p":"A","s":"Local feature","x":1.0,"y":0.16},{"p":"A","s":"Local feature","x":1.1,"y":0.15},{"p":"A","s":"Local feature","x":1.2,"y":0.14},{"p":"A","s":"Local feature","x":1.3,"y":0.14},{"p":"A","s":"Local feature","x":1.45,"y":0.12},{"p":"A","s":"Local feature","x":1.55,"y":0.15},{"p":"A","s":"Local feature","x":1.7,"y":0.12},{"p":"A","s":"Local feature","x":1.85,"y":0.14},{"p":"A","s":"Local feature","x":2.0,"y":0.14},{"p":"A","s":"Local feature","x":2.1,"y":0.13},{"p":"A","s":"Local feature","x":2.25,"y":0.12},{"p":"A","s":"Local feature","x":2.42,"y":0.12},
{"p":"B","s":"Random gaze","x":0.02,"y":0.92},{"p":"B","s":"Random gaze","x":0.16,"y":0.935},{"p":"B","s":"Random gaze","x":0.35,"y":0.952},{"p":"B","s":"Random gaze","x":0.62,"y":0.97},{"p":"B","s":"Random gaze","x":1.07,"y":0.982},{"p":"B","s":"Random gaze","x":1.53,"y":0.99},{"p":"B","s":"Random gaze","x":2.0,"y":0.994},{"p":"B","s":"Random gaze","x":2.44,"y":0.995},
{"p":"B","s":"Random walk","x":0.02,"y":0.39},{"p":"B","s":"Random walk","x":0.08,"y":0.42},{"p":"B","s":"Random walk","x":0.15,"y":0.44},{"p":"B","s":"Random walk","x":0.25,"y":0.47},{"p":"B","s":"Random walk","x":0.35,"y":0.48},{"p":"B","s":"Random walk","x":0.45,"y":0.47},{"p":"B","s":"Random walk","x":0.55,"y":0.46},{"p":"B","s":"Random walk","x":0.65,"y":0.49},{"p":"B","s":"Random walk","x":0.75,"y":0.53},{"p":"B","s":"Random walk","x":0.85,"y":0.55},{"p":"B","s":"Random walk","x":0.95,"y":0.57},{"p":"B","s":"Random walk","x":1.05,"y":0.6},{"p":"B","s":"Random walk","x":1.15,"y":0.62},{"p":"B","s":"Random walk","x":1.25,"y":0.63},{"p":"B","s":"Random walk","x":1.35,"y":0.65},{"p":"B","s":"Random walk","x":1.45,"y":0.65},{"p":"B","s":"Random walk","x":1.55,"y":0.64},{"p":"B","s":"Random walk","x":1.65,"y":0.63},{"p":"B","s":"Random walk","x":1.75,"y":0.66},{"p":"B","s":"Random walk","x":1.85,"y":0.72},{"p":"B","s":"Random walk","x":1.95,"y":0.78},{"p":"B","s":"Random walk","x":2.05,"y":0.8},{"p":"B","s":"Random walk","x":2.15,"y":0.8},{"p":"B","s":"Random walk","x":2.25,"y":0.81},{"p":"B","s":"Random walk","x":2.35,"y":0.84},
{"p":"B","s":"Local feature","x":0.02,"y":0.17},{"p":"B","s":"Local feature","x":0.04,"y":0.15},{"p":"B","s":"Local feature","x":0.06,"y":0.11},{"p":"B","s":"Local feature","x":0.1,"y":0.1},{"p":"B","s":"Local feature","x":0.14,"y":0.14},{"p":"B","s":"Local feature","x":0.2,"y":0.15},{"p":"B","s":"Local feature","x":0.3,"y":0.15},{"p":"B","s":"Local feature","x":0.4,"y":0.14},{"p":"B","s":"Local feature","x":0.5,"y":0.16},{"p":"B","s":"Local feature","x":0.6,"y":0.18},{"p":"B","s":"Local feature","x":0.7,"y":0.18},{"p":"B","s":"Local feature","x":0.8,"y":0.21},{"p":"B","s":"Local feature","x":0.9,"y":0.24},{"p":"B","s":"Local feature","x":0.98,"y":0.25},{"p":"B","s":"Local feature","x":1.05,"y":0.24},{"p":"B","s":"Local feature","x":1.12,"y":0.2},{"p":"B","s":"Local feature","x":1.2,"y":0.19},{"p":"B","s":"Local feature","x":1.3,"y":0.18},{"p":"B","s":"Local feature","x":1.4,"y":0.16},{"p":"B","s":"Local feature","x":1.5,"y":0.17},{"p":"B","s":"Local feature","x":1.6,"y":0.19},{"p":"B","s":"Local feature","x":1.7,"y":0.18},{"p":"B","s":"Local feature","x":1.8,"y":0.16},{"p":"B","s":"Local feature","x":1.9,"y":0.18},{"p":"B","s":"Local feature","x":2.05,"y":0.2},
{"p":"C","s":"Random gaze","x":0.02,"y":0.92},{"p":"C","s":"Random gaze","x":0.23,"y":0.935},{"p":"C","s":"Random gaze","x":0.5,"y":0.952},{"p":"C","s":"Random gaze","x":0.95,"y":0.975},{"p":"C","s":"Random gaze","x":1.4,"y":0.988},{"p":"C","s":"Random gaze","x":1.9,"y":0.993},{"p":"C","s":"Random gaze","x":2.42,"y":0.995},
{"p":"C","s":"Random walk","x":0.02,"y":0.42},{"p":"C","s":"Random walk","x":0.1,"y":0.44},{"p":"C","s":"Random walk","x":0.2,"y":0.47},{"p":"C","s":"Random walk","x":0.3,"y":0.49},{"p":"C","s":"Random walk","x":0.4,"y":0.5},{"p":"C","s":"Random walk","x":0.5,"y":0.52},{"p":"C","s":"Random walk","x":0.6,"y":0.54},{"p":"C","s":"Random walk","x":0.7,"y":0.56},{"p":"C","s":"Random walk","x":0.8,"y":0.58},{"p":"C","s":"Random walk","x":0.9,"y":0.6},{"p":"C","s":"Random walk","x":1.0,"y":0.61},{"p":"C","s":"Random walk","x":1.1,"y":0.62},{"p":"C","s":"Random walk","x":1.2,"y":0.62},{"p":"C","s":"Random walk","x":1.3,"y":0.61},{"p":"C","s":"Random walk","x":1.4,"y":0.62},{"p":"C","s":"Random walk","x":1.5,"y":0.62},{"p":"C","s":"Random walk","x":1.6,"y":0.62},{"p":"C","s":"Random walk","x":1.7,"y":0.63},{"p":"C","s":"Random walk","x":1.8,"y":0.65},{"p":"C","s":"Random walk","x":1.9,"y":0.7},{"p":"C","s":"Random walk","x":2.0,"y":0.74},{"p":"C","s":"Random walk","x":2.1,"y":0.77},{"p":"C","s":"Random walk","x":2.2,"y":0.79},{"p":"C","s":"Random walk","x":2.3,"y":0.83},{"p":"C","s":"Random walk","x":2.4,"y":0.86},
{"p":"C","s":"Local feature","x":0.02,"y":0.0},{"p":"C","s":"Local feature","x":0.05,"y":0.05},{"p":"C","s":"Local feature","x":0.1,"y":0.1},{"p":"C","s":"Local feature","x":0.15,"y":0.13},{"p":"C","s":"Local feature","x":0.2,"y":0.15},{"p":"C","s":"Local feature","x":0.27,"y":0.17},{"p":"C","s":"Local feature","x":0.33,"y":0.19},{"p":"C","s":"Local feature","x":0.4,"y":0.22},{"p":"C","s":"Local feature","x":0.45,"y":0.23},{"p":"C","s":"Local feature","x":0.5,"y":0.21},{"p":"C","s":"Local feature","x":0.55,"y":0.2},{"p":"C","s":"Local feature","x":0.62,"y":0.23},{"p":"C","s":"Local feature","x":0.7,"y":0.26},{"p":"C","s":"Local feature","x":0.76,"y":0.24},{"p":"C","s":"Local feature","x":0.85,"y":0.21},{"p":"C","s":"Local feature","x":0.95,"y":0.18},{"p":"C","s":"Local feature","x":1.05,"y":0.2},{"p":"C","s":"Local feature","x":1.15,"y":0.22},{"p":"C","s":"Local feature","x":1.25,"y":0.23},{"p":"C","s":"Local feature","x":1.35,"y":0.23},{"p":"C","s":"Local feature","x":1.45,"y":0.24},{"p":"C","s":"Local feature","x":1.55,"y":0.27},{"p":"C","s":"Local feature","x":1.65,"y":0.28},{"p":"C","s":"Local feature","x":1.8,"y":0.28},{"p":"C","s":"Local feature","x":1.95,"y":0.29},{"p":"C","s":"Local feature","x":2.05,"y":0.3}
]
},
"spacing":17,
"resolve":{"scale":{"fill":"independent","stroke":"independent","color":"independent"},"legend":{"fill":"independent","stroke":"independent","color":"independent"}},
"hconcat":[
{
 "width":184,"height":184,
 "title":{"text":"A","anchor":"start","frame":"group","dx":-39,"offset":-15,"fontSize":15,"fontWeight":"bold","color":"#000"},
 "layer":[
  {"data":{"name":"models"},"transform":[{"filter":"datum.p==='A'"}],
   "mark":{"type":"area","opacity":0.25,"clip":true},
   "encoding":{
    "x":{"field":"x","type":"quantitative","scale":{"domain":[-0.09,2.44],"nice":false,"zero":false},"axis":{"orient":"bottom","values":[0,1,2],"format":".1f","title":"log₁₀ time [s]","grid":false}},
    "y":{"field":"lo","type":"quantitative","scale":{"domain":[-0.1,1.05],"nice":false,"zero":false},"axis":{"values":[0,0.25,0.5,0.75,1],"labelExpr":"datum.value==0.25||datum.value==0.75?'':format(datum.value,'.1f')","title":"Local and global correlation","grid":true}},
    "y2":{"field":"hi"},
    "fill":{"field":"m","type":"nominal","scale":{"domain":["NM","EO","MA","KA","DF"],"range":["#a6d854","#8da0cb","#fc8d62","#e78ac3","#66c2a5"]},
     "legend":{"orient":"none","legendX":146,"legendY":68,"values":["DF","KA","MA","EO","NM"],"title":"M̲a̲x̲","titleAnchor":"end","titleFontSize":11,"titleFontWeight":"normal","titleColor":"#222","titlePadding":5,"labelFontSize":11,"labelOffset":0,"symbolOpacity":0,"symbolSize":1,"symbolStrokeWidth":0,"rowPadding":5.4,
      "labelExpr":"datum.value=='DF'?'0.94':datum.value=='KA'?'0.92':datum.value=='MA'?'0.90':datum.value=='EO'?'0.91':'0.88'",
      "labelColor":{"expr":"datum.value=='DF'?'#5cb99b':datum.value=='KA'?'#e384c1':datum.value=='MA'?'#f4875b':datum.value=='EO'?'#8799c8':'#9dce50'"}}}
   }},
  {"data":{"name":"models"},"transform":[{"filter":"datum.p==='A'"}],
   "mark":{"type":"line","strokeWidth":1.1,"clip":true},
   "encoding":{
    "x":{"field":"x","type":"quantitative","axis":{"orient":"top","title":"L-cone","titleAnchor":"end","titleFontSize":12.5,"titleFontWeight":"normal","titlePadding":3,"domain":false,"ticks":false,"labels":false,"grid":false}},
    "y":{"field":"y","type":"quantitative"},
    "stroke":{"field":"m","type":"nominal","scale":{"domain":["DF","KA","MA","EO","NM"],"range":["#4fae8d","#d978b5","#f07a4a","#7a8fc2","#93c83f"]},
     "legend":{"orient":"none","legendX":122,"legendY":84,"title":null,"symbolType":"stroke","symbolSize":16,"symbolStrokeWidth":1.5,"labelOffset":3,"labelFontSize":11,"rowPadding":5.4,
      "labelColor":{"expr":"datum.value=='DF'?'#5cb99b':datum.value=='KA'?'#e384c1':datum.value=='MA'?'#f4875b':datum.value=='EO'?'#8799c8':'#9dce50'"}}}
   }},
  {"data":{"name":"base"},"transform":[{"filter":"datum.p==='A'"}],
   "mark":{"type":"line","strokeWidth":2.1,"strokeDash":[0.5,5.2],"strokeCap":"round","clip":true},
   "encoding":{
    "x":{"field":"x","type":"quantitative","axis":null},
    "y":{"field":"y","type":"quantitative"},
    "color":{"field":"s","type":"nominal","scale":{"domain":["Random gaze","Random walk","Local feature"],"range":["#ff2b2b","#2430ff","#2e8b3c"]},
     "legend":{"orient":"none","legendX":-14,"legendY":-40,"title":null,"columns":2,"columnPadding":25,"rowPadding":5.5,"symbolType":"stroke","symbolSize":25,"symbolStrokeWidth":2.1,"symbolDash":[0.5,4.2],"labelFontSize":11.5,"labelOffset":4,
      "labelColor":{"expr":"datum.value=='Random gaze'?'#f23b3b':datum.value=='Local feature'?'#2e8b40':'#2a36e8'"},
      "encode":{"symbols":{"update":{"strokeCap":{"value":"round"}}}}}}
   }}
 ],
 "resolve":{"axis":{"x":"independent"}}
},
{
 "width":184,"height":184,
 "title":{"text":"B","anchor":"start","frame":"group","dx":-46,"offset":11,"fontSize":15,"fontWeight":"bold","color":"#000"},
 "layer":[
  {"data":{"name":"models"},"transform":[{"filter":"datum.p==='B'"}],
   "mark":{"type":"area","opacity":0.25,"clip":true},
   "encoding":{
    "x":{"field":"x","type":"quantitative","scale":{"domain":[-0.09,2.44],"nice":false,"zero":false},"axis":{"orient":"bottom","values":[0,1,2],"format":".1f","title":"log₁₀ time [s]","grid":false}},
    "y":{"field":"lo","type":"quantitative","scale":{"domain":[-0.1,1.05],"nice":false,"zero":false},"axis":{"values":[0,0.25,0.5,0.75,1],"labelExpr":"datum.value==0.25||datum.value==0.75?'':format(datum.value,'.1f')","title":"Local and global correlation","grid":true}},
    "y2":{"field":"hi"},
    "fill":{"field":"m","type":"nominal","scale":{"domain":["NM","EO","MA","KA","DF"],"range":["#a6d854","#8da0cb","#fc8d62","#e78ac3","#66c2a5"]},
     "legend":{"orient":"none","legendX":149,"legendY":84,"values":["DF","KA","MA","EO","NM"],"title":null,"labelFontSize":11,"labelOffset":0,"symbolOpacity":0,"symbolSize":1,"symbolStrokeWidth":0,"rowPadding":5.4,
      "labelExpr":"datum.value=='DF'?'0.93':datum.value=='KA'?'0.93':datum.value=='MA'?'0.89':datum.value=='EO'?'0.91':'0.87'",
      "labelColor":{"expr":"datum.value=='DF'?'#5cb99b':datum.value=='KA'?'#e384c1':datum.value=='MA'?'#f4875b':datum.value=='EO'?'#8799c8':'#9dce50'"}}}
   }},
  {"data":{"name":"models"},"transform":[{"filter":"datum.p==='B'"}],
   "mark":{"type":"line","strokeWidth":1.1,"clip":true},
   "encoding":{
    "x":{"field":"x","type":"quantitative","axis":{"orient":"top","title":"M-cone","titleAnchor":"end","titleFontSize":12.5,"titleFontWeight":"normal","titlePadding":3,"domain":false,"ticks":false,"labels":false,"grid":false}},
    "y":{"field":"y","type":"quantitative"},
    "stroke":{"field":"m","type":"nominal","scale":{"domain":["DF","KA","MA","EO","NM"],"range":["#4fae8d","#d978b5","#f07a4a","#7a8fc2","#93c83f"]},"legend":null}
   }},
  {"data":{"name":"base"},"transform":[{"filter":"datum.p==='B'"}],
   "mark":{"type":"line","strokeWidth":2.1,"strokeDash":[0.5,5.2],"strokeCap":"round","clip":true},
   "encoding":{
    "x":{"field":"x","type":"quantitative","axis":null},
    "y":{"field":"y","type":"quantitative"},
    "color":{"field":"s","type":"nominal","scale":{"domain":["Random gaze","Random walk","Local feature"],"range":["#ff2b2b","#2430ff","#2e8b3c"]},"legend":null}
   }}
 ],
 "resolve":{"axis":{"x":"independent"}}
},
{
 "width":184,"height":184,
 "title":{"text":"C","anchor":"start","frame":"group","dx":-49,"offset":11,"fontSize":15,"fontWeight":"bold","color":"#000"},
 "layer":[
  {"data":{"name":"models"},"transform":[{"filter":"datum.p==='C'"}],
   "mark":{"type":"area","opacity":0.25,"clip":true},
   "encoding":{
    "x":{"field":"x","type":"quantitative","scale":{"domain":[-0.09,2.44],"nice":false,"zero":false},"axis":{"orient":"bottom","values":[0,1,2],"format":".1f","title":"log₁₀ time [s]","grid":false}},
    "y":{"field":"lo","type":"quantitative","scale":{"domain":[-0.1,1.05],"nice":false,"zero":false},"axis":{"values":[0,0.25,0.5,0.75,1],"labelExpr":"datum.value==0.25||datum.value==0.75?'':format(datum.value,'.1f')","title":"Local and global correlation","grid":true}},
    "y2":{"field":"hi"},
    "fill":{"field":"m","type":"nominal","scale":{"domain":["NM","EO","MA","KA","DF"],"range":["#a6d854","#8da0cb","#fc8d62","#e78ac3","#66c2a5"]},
     "legend":{"orient":"none","legendX":149,"legendY":84,"values":["DF","KA","MA","EO","NM"],"title":null,"labelFontSize":11,"labelOffset":0,"symbolOpacity":0,"symbolSize":1,"symbolStrokeWidth":0,"rowPadding":5.4,
      "labelExpr":"datum.value=='DF'?'0.92':datum.value=='KA'?'0.91':datum.value=='MA'?'0.88':datum.value=='EO'?'0.91':'0.89'",
      "labelColor":{"expr":"datum.value=='DF'?'#5cb99b':datum.value=='KA'?'#e384c1':datum.value=='MA'?'#f4875b':datum.value=='EO'?'#8799c8':'#9dce50'"}}}
   }},
  {"data":{"name":"models"},"transform":[{"filter":"datum.p==='C'"}],
   "mark":{"type":"line","strokeWidth":1.1,"clip":true},
   "encoding":{
    "x":{"field":"x","type":"quantitative","axis":{"orient":"top","title":"S-cone","titleAnchor":"end","titleFontSize":12.5,"titleFontWeight":"normal","titlePadding":3,"domain":false,"ticks":false,"labels":false,"grid":false}},
    "y":{"field":"y","type":"quantitative"},
    "stroke":{"field":"m","type":"nominal","scale":{"domain":["DF","KA","MA","EO","NM"],"range":["#4fae8d","#d978b5","#f07a4a","#7a8fc2","#93c83f"]},"legend":null}
   }},
  {"data":{"name":"base"},"transform":[{"filter":"datum.p==='C'"}],
   "mark":{"type":"line","strokeWidth":2.1,"strokeDash":[0.5,5.2],"strokeCap":"round","clip":true},
   "encoding":{
    "x":{"field":"x","type":"quantitative","axis":null},
    "y":{"field":"y","type":"quantitative"},
    "color":{"field":"s","type":"nominal","scale":{"domain":["Random gaze","Random walk","Local feature"],"range":["#ff2b2b","#2430ff","#2e8b3c"]},"legend":null}
   }}
 ],
 "resolve":{"axis":{"x":"independent"}}
}
]
}
